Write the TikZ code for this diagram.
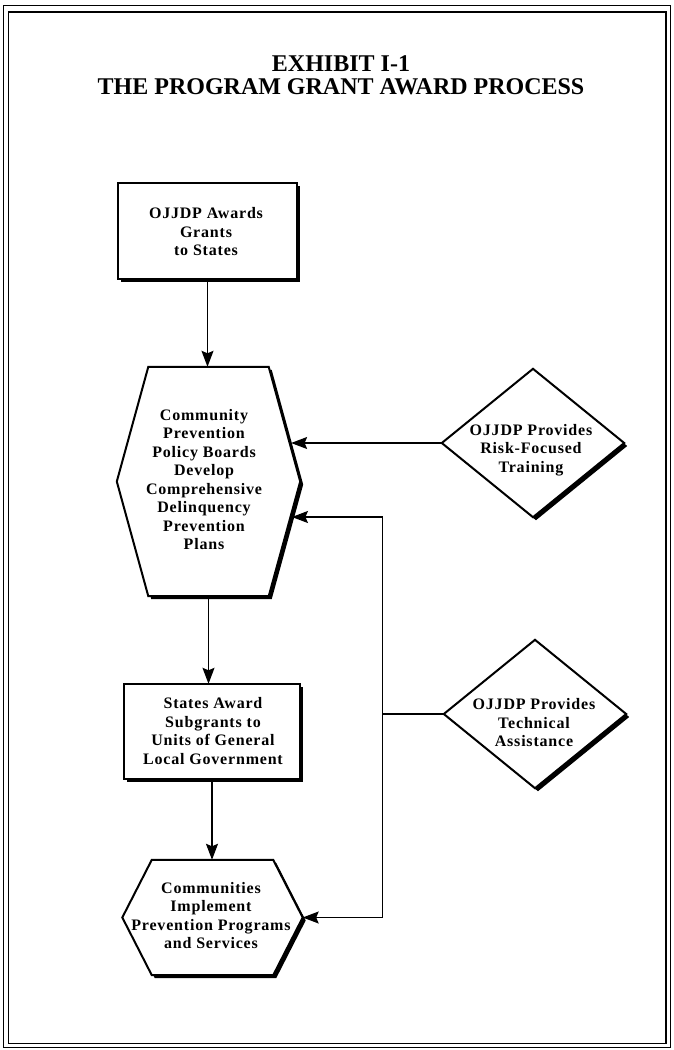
\documentclass[tikz,border=0pt]{standalone}
\usepackage{fontspec}
\setmainfont{Liberation Serif}
\newfontfamily\spacedfont[LetterSpace=5]{Liberation Serif}
\usetikzlibrary{calc,arrows.meta,backgrounds}
\begin{document}
\begin{tikzpicture}[x=1pt,y=-1pt,
  titlef/.style={font=\bfseries\fontsize{24}{24}\selectfont, inner sep=0pt},
  txt/.style={font=\spacedfont\bfseries\fontsize{16}{18.5}\selectfont, align=center, inner sep=0pt},
  holder/.style={inner sep=0pt, draw=none},
  shp/.style={fill=white, draw=black, line width=2pt, line join=miter},
  shadow/.style={fill=black},
  arr/.style={line width=1.3pt, -{Stealth[length=16pt,width=12pt,inset=2.5pt]}},
  link/.style={line width=1.3pt}
]
\useasboundingbox (0,0) rectangle (673,1050);
% double frame
\draw[line width=1pt] (3.5,5.5) rectangle (670.5,1047.5);
\draw[line width=1.8pt] (8.5,12) rectangle (666,1043.5);

% title
\node[titlef] (t1) at (341,64) {EXHIBIT I-1};
\node[titlef] (t2) at (341,87) {THE PROGRAM GRANT AWARD PROCESS};

% shape holders
\node[holder, minimum width=179, minimum height=96] (b1) at (207.5,231) {};
\node[holder, minimum width=120, minimum height=229] (h1) at (208.5,481.5) {};
\node[holder, minimum width=176, minimum height=95] (b2) at (212,731.5) {};
\node[holder, minimum width=121, minimum height=115] (h2) at (212.5,917.5) {};
\node[holder, minimum width=182, minimum height=148] (d1) at (533,443) {};
\node[holder, minimum width=182, minimum height=148] (d2) at (535,714) {};

\coordinate (h1r) at ($(h1.east)+(31.5,0)$);
\coordinate (h1l) at ($(h1.west)+(-31.5,0)$);
\coordinate (h2r) at ($(h2.east)+(29.5,0)$);
\coordinate (h2l) at ($(h2.west)+(-29.5,0)$);

% texts
\node[txt] (b1t) at (206,232) {OJJDP Awards\\Grants\\to States};
\node[txt] (h1t) at (204,479.5) {Community\\Prevention\\Policy Boards\\Develop\\Comprehensive\\Delinquency\\Prevention\\Plans};
\node[txt] (b2t) at (213,731) {States Award\\Subgrants to\\Units of General\\Local Government};
\node[txt] (h2t) at (211,915.5) {Communities\\Implement\\Prevention Programs\\and Services};
\node[txt] (d1t) at (531,450) {OJJDP Provides\\Risk-Focused\\Training};
\node[txt] (d2t) at (534,722.7) {OJJDP Provides\\Technical\\Assistance};

% shapes with shadows
\begin{pgfonlayer}{background}
\begin{scope}[transform canvas={xshift=3pt,yshift=-3pt}]
  \fill[shadow] (b1.north west) rectangle (b1.south east);
  \fill[shadow] (b2.north west) rectangle (b2.south east);
  \fill[shadow] (h1.north west) -- (h1.north east) -- (h1r) -- (h1.south east) -- (h1.south west) -- (h1l) -- cycle;
  \fill[shadow] (h2.north west) -- (h2.north east) -- (h2r) -- (h2.south east) -- (h2.south west) -- (h2l) -- cycle;
  \fill[shadow] (d1.north) -- (d1.east) -- (d1.south) -- (d1.west) -- cycle;
  \fill[shadow] (d2.north) -- (d2.east) -- (d2.south) -- (d2.west) -- cycle;
\end{scope}
\path[shp] (b1.north west) rectangle (b1.south east);
\path[shp] (b2.north west) rectangle (b2.south east);
\path[shp] (h1.north west) -- (h1.north east) -- (h1r) -- (h1.south east) -- (h1.south west) -- (h1l) -- cycle;
\path[shp] (h2.north west) -- (h2.north east) -- (h2r) -- (h2.south east) -- (h2.south west) -- (h2l) -- cycle;
\path[shp] (d1.north) -- (d1.east) -- (d1.south) -- (d1.west) -- cycle;
\path[shp] (d2.north) -- (d2.east) -- (d2.south) -- (d2.west) -- cycle;
\end{pgfonlayer}

% main flow
\draw[arr] (b1.south) -- (b1.south |- h1.north);
\draw[arr] (h1.south) -- (h1.south |- b2.north);
\draw[arr] (b2.south) -- (b2.south |- h2.north);

% training arrow
\coordinate (p1) at ($(h1.north east)!0.664!(h1r)$);
\draw[arr, shorten >=1.5pt] (d1.west) -- (d1.west -| p1);

% technical assistance feedback
\coordinate (fbtop) at (382.5,517);
\coordinate (p2) at ($(h1r)!0.31!(h1.south east)$);
\coordinate (fbmid) at (fbtop |- d2.west);
\coordinate (fbbot) at (fbtop |- h2r);
\draw[link] (d2.west) -- (fbmid);
\draw[arr, shorten >=1.5pt] (fbmid) -- (fbtop) -- (fbtop -| p2);
\draw[arr] (fbmid) -- (fbbot) -- (h2r);
\end{tikzpicture}
\end{document}
